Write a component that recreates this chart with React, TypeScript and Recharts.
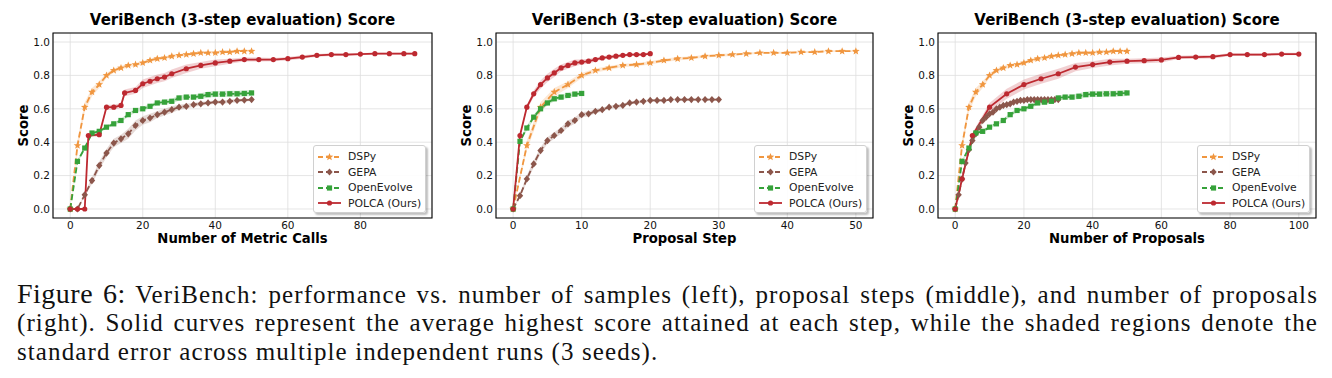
import React from 'react'
import { ComposedChart, Line, Area, XAxis, YAxis, CartesianGrid, ReferenceArea, Legend } from 'recharts'

const FONT = '"DejaVu Sans", Verdana, sans-serif'

// DSPy: same curve in all three panels (x = metric calls / steps / proposals)
const dspyX = [0, 2, 4, 6, 8, 10, 12, 14, 16, 18, 20, 22, 24, 26, 28, 30, 32, 34, 36, 38, 40, 42, 44, 46, 48, 50]
const dspyY = [0, 0.38, 0.61, 0.70, 0.745, 0.80, 0.83, 0.845, 0.86, 0.865, 0.875, 0.89, 0.90, 0.905, 0.915, 0.92, 0.925, 0.93, 0.935, 0.935, 0.935, 0.94, 0.94, 0.945, 0.945, 0.945]
const dspyErr = [0, 0.03, 0.03, 0.025, 0.02, 0.015, 0.012, 0.012, 0.01, 0.01, 0.01, 0.01, 0.01, 0.008, 0.008, 0.008, 0.008, 0.006, 0.006, 0.006, 0.006, 0.006, 0.005, 0.005, 0.005, 0.005]

// OpenEvolve, left and right panels
const oeX = [0, 2, 4, 6, 8, 10, 12, 14, 16, 18, 20, 22, 24, 26, 28, 30, 32, 34, 36, 38, 40, 42, 44, 46, 48, 50]
const oeY = [0, 0.285, 0.365, 0.455, 0.465, 0.49, 0.51, 0.53, 0.565, 0.59, 0.60, 0.615, 0.635, 0.64, 0.645, 0.665, 0.67, 0.67, 0.675, 0.685, 0.688, 0.688, 0.69, 0.69, 0.692, 0.695]
const oeErr = [0, 0.01, 0.01, 0.01, 0.01, 0.01, 0.01, 0.01, 0.012, 0.012, 0.012, 0.012, 0.012, 0.015, 0.015, 0.015, 0.015, 0.015, 0.018, 0.018, 0.018, 0.018, 0.018, 0.018, 0.018, 0.018]

// left panel: number of metric calls
const gepaCallsX = [0, 2, 4, 6, 8, 10, 12, 14, 16, 18, 20, 22, 24, 26, 28, 30, 32, 34, 36, 38, 40, 42, 44, 46, 48, 50]
const gepaCallsY = [0, 0, 0.085, 0.17, 0.26, 0.335, 0.395, 0.42, 0.45, 0.50, 0.53, 0.545, 0.565, 0.58, 0.595, 0.61, 0.615, 0.625, 0.63, 0.635, 0.64, 0.64, 0.645, 0.65, 0.652, 0.655]
const gepaCallsErr = [0, 0, 0.01, 0.02, 0.025, 0.025, 0.025, 0.025, 0.03, 0.03, 0.025, 0.025, 0.02, 0.02, 0.02, 0.015, 0.015, 0.012, 0.012, 0.01, 0.01, 0.01, 0.01, 0.01, 0.008, 0.008]
const polcaCallsX = [0, 2, 4, 5, 8, 10, 12, 14, 15, 18, 20, 22, 24, 26, 28, 32, 36, 40, 44, 48, 52, 56, 60, 64, 68, 72, 76, 80, 84, 88, 92, 95]
const polcaCallsY = [0, 0, 0, 0.44, 0.445, 0.61, 0.61, 0.62, 0.695, 0.71, 0.75, 0.765, 0.78, 0.79, 0.81, 0.84, 0.86, 0.875, 0.885, 0.895, 0.895, 0.895, 0.90, 0.91, 0.92, 0.925, 0.925, 0.928, 0.93, 0.93, 0.93, 0.93]
const polcaCallsErr = [0, 0, 0, 0.01, 0.01, 0.015, 0.015, 0.015, 0.02, 0.02, 0.025, 0.025, 0.025, 0.025, 0.025, 0.025, 0.02, 0.02, 0.015, 0.012, 0.012, 0.01, 0.01, 0.01, 0.008, 0.008, 0.008, 0.006, 0.006, 0.006, 0.006, 0.006]

// middle panel: proposal step
const gepaStepX = [0, 1, 2, 3, 4, 5, 6, 7, 8, 9, 10, 11, 12, 13, 14, 15, 16, 17, 18, 19, 20, 21, 22, 23, 24, 25, 26, 27, 28, 29, 30]
const gepaStepY = [0, 0.08, 0.18, 0.27, 0.35, 0.41, 0.44, 0.47, 0.51, 0.53, 0.565, 0.57, 0.585, 0.595, 0.61, 0.615, 0.62, 0.635, 0.64, 0.645, 0.65, 0.65, 0.65, 0.655, 0.655, 0.655, 0.655, 0.655, 0.655, 0.655, 0.655]
const gepaStepErr = [0, 0.01, 0.02, 0.02, 0.02, 0.02, 0.02, 0.02, 0.02, 0.02, 0.015, 0.015, 0.012, 0.012, 0.01, 0.01, 0.01, 0.008, 0.008, 0.008, 0.006, 0.006, 0.006, 0.006, 0.006, 0.005, 0.005, 0.005, 0.005, 0.005, 0.005]
const oeStepX = [0, 1, 2, 3, 4, 5, 6, 7, 8, 9, 10]
const oeStepY = [0, 0.405, 0.485, 0.55, 0.60, 0.635, 0.66, 0.67, 0.68, 0.688, 0.692]
const oeStepErr = [0, 0.012, 0.015, 0.015, 0.015, 0.015, 0.015, 0.015, 0.015, 0.015, 0.015]
const polcaStepX = [0, 1, 2, 3, 4, 5, 6, 7, 8, 9, 10, 11, 12, 13, 14, 15, 16, 17, 18, 19, 20]
const polcaStepY = [0, 0.44, 0.61, 0.69, 0.745, 0.785, 0.815, 0.845, 0.86, 0.875, 0.88, 0.885, 0.895, 0.905, 0.91, 0.915, 0.92, 0.925, 0.925, 0.925, 0.93]
const polcaStepErr = [0, 0.01, 0.015, 0.02, 0.025, 0.025, 0.025, 0.02, 0.02, 0.02, 0.015, 0.015, 0.012, 0.01, 0.01, 0.01, 0.008, 0.008, 0.008, 0.008, 0.008]

// right panel: number of proposals
const gepaPropX = [0, 1, 2, 3, 4, 5, 6, 7, 8, 9, 10, 11, 12, 13, 14, 15, 16, 17, 18, 19, 20, 21, 22, 23, 24, 25, 26, 27, 28, 29, 30]
const gepaPropY = [0, 0.085, 0.18, 0.275, 0.355, 0.41, 0.45, 0.49, 0.53, 0.55, 0.57, 0.58, 0.60, 0.61, 0.62, 0.625, 0.63, 0.64, 0.645, 0.65, 0.65, 0.655, 0.655, 0.655, 0.655, 0.655, 0.655, 0.655, 0.655, 0.655, 0.655]
const gepaPropErr = [0, 0.01, 0.015, 0.02, 0.02, 0.02, 0.02, 0.02, 0.02, 0.02, 0.015, 0.015, 0.012, 0.012, 0.01, 0.01, 0.01, 0.008, 0.008, 0.008, 0.006, 0.006, 0.006, 0.006, 0.006, 0.005, 0.005, 0.005, 0.005, 0.005, 0.005]
const polcaPropX = [0, 2, 5, 10, 15, 20, 25, 30, 35, 40, 45, 50, 55, 60, 65, 70, 75, 80, 85, 90, 95, 100]
const polcaPropY = [0, 0.18, 0.44, 0.61, 0.69, 0.745, 0.78, 0.81, 0.85, 0.865, 0.88, 0.885, 0.888, 0.893, 0.908, 0.91, 0.912, 0.925, 0.925, 0.925, 0.928, 0.928]
const polcaPropErr = [0, 0.01, 0.015, 0.025, 0.03, 0.03, 0.03, 0.03, 0.025, 0.02, 0.02, 0.015, 0.015, 0.015, 0.01, 0.01, 0.01, 0.008, 0.008, 0.008, 0.008, 0.008]

const yTicks = [0, 0.2, 0.4, 0.6, 0.8, 1.0]
const callsTicks = [0, 20, 40, 60, 80]
const stepTicks = [0, 10, 20, 30, 40, 50]
const propTicks = [0, 20, 40, 60, 80, 100]

const TITLE = 'VeriBench (3-step evaluation) Score'
const CAPTION_1 = 'VeriBench: performance vs. number of samples (left), proposal steps (middle), and number of proposals'
const CAPTION_2 = '(right). Solid curves represent the average highest score attained at each step, while the shaded regions denote the'
const CAPTION_3 = 'standard error across multiple independent runs (3 seeds).'

const COLORS = { dspy: '#f0963f', gepa: '#8c564b', oe: '#36a23a', polca: '#bd2930' }

type Row = { x: number; y: number; band: [number, number] }
type Series = { name: string; color: string; dashed: boolean; marker: string; rows: Row[] }

const rowsOf = (xs: number[], ys: number[], errs: number[]): Row[] =>
  xs.map((x, i) => ({ x, y: ys[i], band: [ys[i] - errs[i], ys[i] + errs[i]] }))

const mk = (name: string, color: string, dashed: boolean, marker: string, rows: Row[]): Series =>
  ({ name, color, dashed, marker, rows })

const callsSeries = [
  mk('DSPy', COLORS.dspy, true, 'star', rowsOf(dspyX, dspyY, dspyErr)),
  mk('GEPA', COLORS.gepa, true, 'diamond', rowsOf(gepaCallsX, gepaCallsY, gepaCallsErr)),
  mk('OpenEvolve', COLORS.oe, true, 'square', rowsOf(oeX, oeY, oeErr)),
  mk('POLCA (Ours)', COLORS.polca, false, 'circle', rowsOf(polcaCallsX, polcaCallsY, polcaCallsErr)),
]
const stepSeries = [
  mk('DSPy', COLORS.dspy, true, 'star', rowsOf(dspyX, dspyY, dspyErr)),
  mk('GEPA', COLORS.gepa, true, 'diamond', rowsOf(gepaStepX, gepaStepY, gepaStepErr)),
  mk('OpenEvolve', COLORS.oe, true, 'square', rowsOf(oeStepX, oeStepY, oeStepErr)),
  mk('POLCA (Ours)', COLORS.polca, false, 'circle', rowsOf(polcaStepX, polcaStepY, polcaStepErr)),
]
const propSeries = [
  mk('DSPy', COLORS.dspy, true, 'star', rowsOf(dspyX, dspyY, dspyErr)),
  mk('GEPA', COLORS.gepa, true, 'diamond', rowsOf(gepaPropX, gepaPropY, gepaPropErr)),
  mk('OpenEvolve', COLORS.oe, true, 'square', rowsOf(oeX, oeY, oeErr)),
  mk('POLCA (Ours)', COLORS.polca, false, 'circle', rowsOf(polcaPropX, polcaPropY, polcaPropErr)),
]

function Marker({ cx, cy, shape, color }: { cx?: number; cy?: number; shape: string; color: string }) {
  if (cx == null || cy == null || isNaN(cx) || isNaN(cy)) return null
  if (shape === 'star') {
    const pts: string[] = []
    for (let i = 0; i < 10; i++) {
      const r = i % 2 === 0 ? 4 : 1.7
      const a = -Math.PI / 2 + (i * Math.PI) / 5
      pts.push(`${cx + r * Math.cos(a)},${cy + r * Math.sin(a)}`)
    }
    return <polygon points={pts.join(' ')} fill={color} />
  }
  if (shape === 'diamond') {
    return <polygon points={`${cx},${cy - 3.6} ${cx + 3.2},${cy} ${cx},${cy + 3.6} ${cx - 3.2},${cy}`} fill={color} />
  }
  if (shape === 'square') {
    return <rect x={cx - 2.6} y={cy - 2.6} width={5.2} height={5.2} fill={color} />
  }
  return <circle cx={cx} cy={cy} r={2.6} fill={color} />
}

function LegendBox({ series }: { series: Series[] }) {
  return (
    <div style={{
      width: 113, height: 68, boxSizing: 'border-box', background: 'rgba(255,255,255,0.9)',
      border: '1px solid #d0d0d0', borderRadius: 3, boxShadow: '2px 2px 2px rgba(0,0,0,0.25)',
      fontFamily: FONT, fontSize: 10.8, color: '#222', padding: '3px 0 0 0',
    }}>
      {series.map(s => (
        <div key={s.name} style={{ display: 'flex', alignItems: 'center', height: 15.5 }}>
          <svg width={30} height={12} style={{ marginLeft: 3, flex: 'none' }}>
            <line x1={1} y1={6} x2={24} y2={6} stroke={s.color} strokeWidth={1.8} strokeDasharray={s.dashed ? '5 3' : undefined} />
            <Marker cx={12.5} cy={6} shape={s.marker} color={s.color} />
          </svg>
          <span style={{ marginLeft: 1, whiteSpace: 'nowrap' }}>{s.name}</span>
        </div>
      ))}
    </div>
  )
}

interface PanelProps {
  left: number
  plotL: number
  plotR: number
  xLabel: string
  xDomain: [number, number]
  xTicks: number[]
  series: Series[]
}

const Y_DOMAIN: [number, number] = [-0.054, 1.054]
const PLOT_TOP = 33
const PLOT_BOTTOM = 218

function Panel({ left, plotL, plotR, xLabel, xDomain, xTicks, series }: PanelProps) {
  const yAxisW = 40
  const mid = (plotL + plotR) / 2
  const tickStyle = { fontSize: 10.5, fill: '#111', fontFamily: FONT }
  return (
    <div style={{ position: 'absolute', left, top: 0, width: 444, height: 250 }}>
      <ComposedChart width={444} height={250} margin={{ top: PLOT_TOP, right: 444 - plotR, bottom: 12, left: plotL - yAxisW }}>
        <CartesianGrid stroke="#dedede" strokeWidth={0.8} />
        <XAxis type="number" dataKey="x" domain={xDomain} ticks={xTicks} interval={0} allowDataOverflow
          tick={tickStyle} tickLine={false} axisLine={false} tickSize={3} tickMargin={1} height={20} />
        <YAxis type="number" domain={Y_DOMAIN} ticks={yTicks} interval={0} allowDataOverflow width={yAxisW}
          tick={tickStyle} tickLine={false} axisLine={false} tickSize={2} tickMargin={1}
          tickFormatter={(v: number) => v.toFixed(1)} />
        {series.map(s => (
          <Area key={`band-${s.name}`} data={s.rows} dataKey="band" type="linear" stroke="none"
            fill={s.color} fillOpacity={0.22} dot={false} activeDot={false} isAnimationActive={false} legendType="none" />
        ))}
        {series.map(s => (
          <Line key={`line-${s.name}`} data={s.rows} dataKey="y" name={s.name} type="linear" stroke={s.color}
            strokeWidth={1.8} strokeDasharray={s.dashed ? '6 3' : undefined}
            dot={(p: any) => <Marker key={`${s.name}-${p.index}`} cx={p.cx} cy={p.cy} shape={s.marker} color={s.color} />}
            activeDot={false} isAnimationActive={false} />
        ))}
        <ReferenceArea x1={xDomain[0]} x2={xDomain[1]} y1={Y_DOMAIN[0]} y2={Y_DOMAIN[1]} fill="none" fillOpacity={0}
          stroke="#000" strokeWidth={1.1} ifOverflow="visible" />
        <Legend layout="vertical" align="center" verticalAlign="middle"
          wrapperStyle={{ left: plotR - 6 - 113, top: PLOT_BOTTOM - 5 - 68, width: 113, height: 68 }}
          content={() => <LegendBox series={series} />} />
      </ComposedChart>
      <div style={{ position: 'absolute', left: mid - 200, width: 400, top: 11, height: 19, lineHeight: '19px',
        textAlign: 'center', fontFamily: FONT, fontWeight: 'bold', fontSize: 15, color: '#000' }}>{TITLE}</div>
      <div style={{ position: 'absolute', left: mid - 150, width: 300, top: 230, height: 17, lineHeight: '17px',
        textAlign: 'center', fontFamily: FONT, fontWeight: 'bold', fontSize: 13.2, color: '#000' }}>{xLabel}</div>
      <div style={{ position: 'absolute', left: plotL - 30 - 40, top: 125.5 - 8.5, width: 80, height: 17, lineHeight: '17px',
        textAlign: 'center', fontFamily: FONT, fontWeight: 'bold', fontSize: 13.2, color: '#000',
        transform: 'rotate(-90deg)' }}>Score</div>
    </div>
  )
}

export default function App() {
  const capLine: React.CSSProperties = {
    position: 'absolute', left: 17, width: 1301, height: 29, lineHeight: '29px', whiteSpace: 'nowrap',
    fontFamily: '"Liberation Serif", "Times New Roman", serif', fontSize: 25, letterSpacing: 1.1, color: '#111',
  }
  return (
    <div style={{ position: 'absolute', left: 0, top: 0, width: 1332, height: 378, background: '#fff', overflow: 'hidden' }}>
      <Panel left={0} plotL={53} plotR={432} xLabel="Number of Metric Calls" xDomain={[-4.75, 99.75]} xTicks={callsTicks} series={callsSeries} />
      <Panel left={444} plotL={52} plotR={429} xLabel="Proposal Step" xDomain={[-2.5, 52.5]} xTicks={stepTicks} series={stepSeries} />
      <Panel left={888} plotL={50} plotR={428} xLabel="Number of Proposals" xDomain={[-5, 105]} xTicks={propTicks} series={propSeries} />
      <div style={{ ...capLine, top: 279, textAlign: 'justify', textAlignLast: 'justify' }}>
        <span style={{ fontSize: 28, letterSpacing: 0.5 }}>Figure 6:</span> {CAPTION_1}
      </div>
      <div style={{ ...capLine, top: 308, textAlign: 'justify', textAlignLast: 'justify' }}>{CAPTION_2}</div>
      <div style={{ ...capLine, top: 337 }}>{CAPTION_3}</div>
    </div>
  )
}
